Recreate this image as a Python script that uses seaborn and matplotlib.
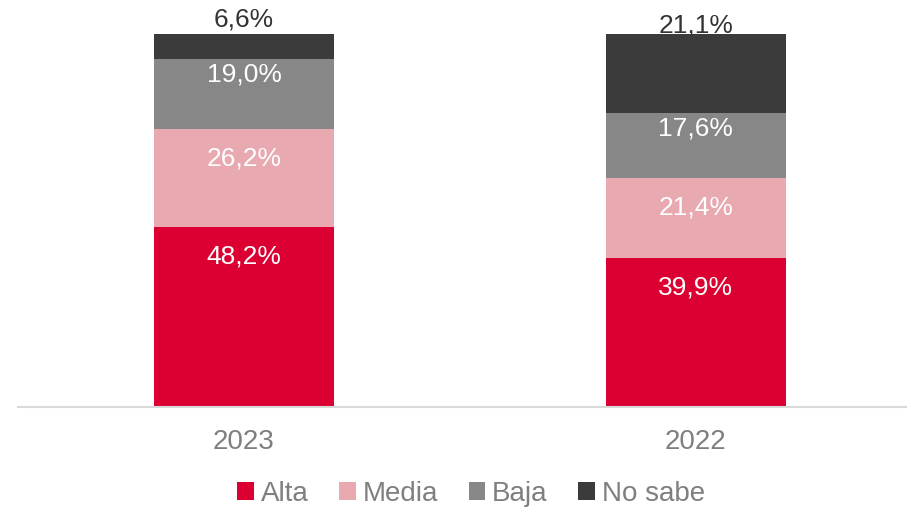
import matplotlib
matplotlib.use("Agg")
import matplotlib.pyplot as plt
from matplotlib.patches import Patch
import numpy as np
import pandas as pd
import seaborn as sns

# Data
years = ["2023", "2022"]
levels = ["Alta", "Media", "Baja", "No sabe"]
alta = [48.2, 39.9]
media = [26.2, 21.4]
baja = [19.0, 17.6]
no_sabe = [6.6, 21.1]

colors = {"Alta": "#DC0032", "Media": "#E8A9B1", "Baja": "#878787", "No sabe": "#3B3B3B"}
# where the label sits relative to the top of its segment (in % units)
label_offset = {"Alta": -7.9, "Media": -7.9, "Baja": -4.3}
nosabe_label_offset = [4.0, 2.4]

sns.set_theme(style="white")
plt.rcParams["font.family"] = ["Liberation Sans", "DejaVu Sans"]

df = pd.DataFrame({"year": years, "Alta": alta, "Media": media, "Baja": baja, "No sabe": no_sabe})
cum = df[levels].cumsum(axis=1)

fig = plt.figure(figsize=(9.07, 5.08), dpi=100)
ax = fig.add_axes([18 / 907, 101 / 508, 889 / 907, 373 / 508])

# layered cumulative bars, tallest first
for lvl in reversed(levels):
    sns.barplot(x=df["year"], y=cum[lvl], color=colors[lvl], width=0.398,
                saturation=1, ax=ax, order=years, linewidth=0)

for i in range(len(years)):
    for lvl in levels:
        top = cum.loc[i, lvl]
        val = df.loc[i, lvl]
        txt = f"{val:.1f}%".replace(".", ",")
        if lvl == "No sabe":
            ax.text(i, top + nosabe_label_offset[i], txt, ha="center", va="center",
                    fontsize=19, color="#333333", clip_on=False)
        else:
            ax.text(i, top + label_offset[lvl], txt, ha="center", va="center",
                    fontsize=19, color="white")

ax.set_xlim(-0.5, 1.467)
ax.set_ylim(0, 100)
ax.set_xlabel("")
ax.set_ylabel("")
ax.set_yticks([])
ax.tick_params(axis="x", length=0, pad=16, labelsize=20, labelcolor="#7F7F7F")
for s in ["top", "right", "left"]:
    ax.spines[s].set_visible(False)
ax.spines["bottom"].set_color("#D9D9D9")
ax.spines["bottom"].set_linewidth(1.5)

handles = [Patch(facecolor=colors[l], edgecolor="none", label=l) for l in levels]
leg = fig.legend(handles=handles, loc="center", bbox_to_anchor=(471 / 907, 14 / 508), ncol=4,
                 frameon=False, fontsize=20, handlelength=0.6, handleheight=0.6,
                 handletextpad=0.25, columnspacing=1.1, borderaxespad=0)
for t in leg.get_texts():
    t.set_color("#7F7F7F")

fig.savefig("out.png", dpi=100)
